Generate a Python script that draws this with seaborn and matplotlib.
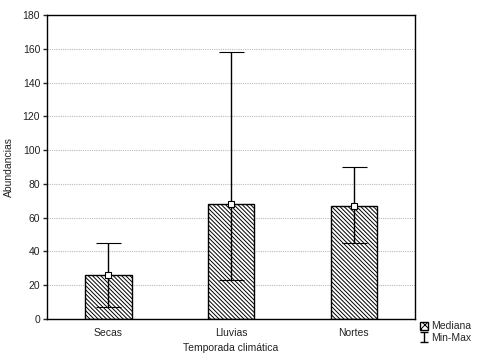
import numpy as np
import pandas as pd
import matplotlib
matplotlib.use('Agg')
import matplotlib.pyplot as plt
import seaborn as sns
from matplotlib.patches import Patch

sns.set_style('white')
plt.rcParams['font.family'] = ['Liberation Sans', 'DejaVu Sans']
plt.rcParams['hatch.linewidth'] = 0.7

temporadas = ['Secas', 'Lluvias', 'Nortes']
mediana = [26, 68, 67]
minimo = [7, 23, 45]
maximo = [45, 158, 90]

df = pd.DataFrame({'Temporada': temporadas, 'Mediana': mediana})

fig, ax = plt.subplots(figsize=(4.8, 3.61), dpi=100)
fig.subplots_adjust(left=0.098, right=0.865, top=0.958, bottom=0.117)

sns.barplot(data=df, x='Temporada', y='Mediana', color='white', width=0.38,
            edgecolor='black', linewidth=1, hatch='\\' * 8, ax=ax, zorder=2)

pos = np.arange(len(temporadas))
med = np.array(mediana)
lo = med - np.array(minimo)
hi = np.array(maximo) - med
ax.errorbar(pos, med, yerr=[lo, hi], fmt='s', color='black', ecolor='black',
            elinewidth=1, capsize=9, capthick=1, markersize=4,
            mfc='white', mec='black', mew=0.8, zorder=3)

ax.set_xlim(-0.5, 2.5)
ax.set_ylim(0, 180)
ax.set_yticks(range(0, 181, 20))
ax.yaxis.grid(True, linestyle=(0, (1, 1)), color='#bbbbbb', linewidth=0.8)
ax.set_axisbelow(True)
for s in ax.spines.values():
    s.set_color('black')
    s.set_linewidth(1)
ax.tick_params(axis='y', left=True, length=3, width=1, labelsize=7.5, pad=2,
               labelcolor='#222222')
ax.tick_params(axis='x', bottom=False, labelsize=7.5, pad=3, labelcolor='#222222')
ax.set_xlabel('Temporada climática', fontsize=7.5, labelpad=4, color='#222222')
ax.set_ylabel('Abundancias', fontsize=7.5, labelpad=6, color='#222222')

eb = ax.errorbar([np.nan], [np.nan], yerr=[[1], [1]], fmt='none',
                 ecolor='black', elinewidth=1, capsize=3, capthick=1)
handles = [Patch(facecolor='white', edgecolor='black', hatch='xxxx'), eb]
fig.legend(handles, ['Mediana', 'Min-Max'], loc='upper left',
           bbox_to_anchor=(0.862, 0.127), frameon=False, fontsize=7.5,
           handlelength=0.8, handleheight=0.8, handletextpad=0.3,
           labelspacing=0.15, borderpad=0.1)

fig.savefig('out.png', dpi=100)
